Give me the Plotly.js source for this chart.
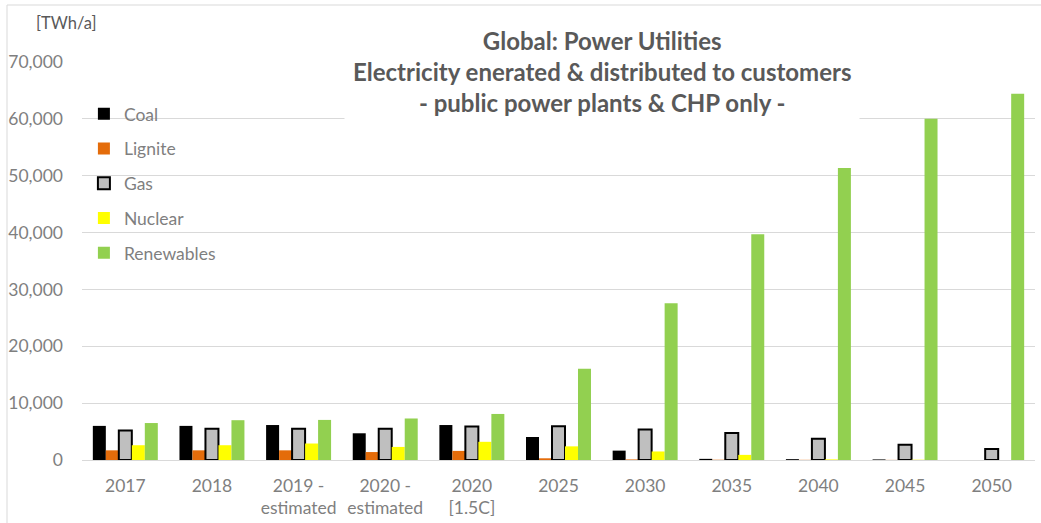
<!DOCTYPE html>
<html>
<head>
<meta charset="utf-8">
<script src="https://cdn.plot.ly/plotly-3.0.1.min.js"></script>
<style>
  html, body { margin: 0; padding: 0; background: #ffffff; }
  #chart { width: 1041px; height: 523px; }
</style>
</head>
<body>
<div id="chart"></div>
<script>
const categories = ['2017', '2018', '2019 -<br>estimated', '2020 -<br>estimated', '2020<br>[1.5C]', '2025', '2030', '2035', '2040', '2045', '2050'];
const coal       = [6000, 6000, 6150, 4700, 6150, 4050, 1650, 200, 150, 100, 0];
const lignite    = [1700, 1700, 1700, 1400, 1600, 300, 100, 50, 30, 20, 0];
const gas        = [5200, 5500, 5500, 5500, 5900, 5950, 5350, 4750, 3750, 2700, 1950];
const nuclear    = [2600, 2600, 2900, 2300, 3200, 2400, 1500, 900, 100, 50, 0];
const renewables = [6500, 7000, 7050, 7300, 8100, 16050, 27550, 39700, 51350, 60000, 64400];
const yTicks     = [0, 10000, 20000, 30000, 40000, 50000, 60000, 70000];

const FONT = 'Lato, "Open Sans", sans-serif';
const GREY = '#7f7f7f';

function bar(name, values, color, line) {
  return {
    type: 'bar', name: name, x: categories, y: values,
    legendgroup: name,
    marker: { color: color, line: line || { width: 0 } },
    hoverinfo: 'x+y+name'
  };
}

const data = [
  bar('Coal', coal, '#000000'),
  bar('Lignite', lignite, '#e46c0a'),
  bar('Gas', gas, '#bfbfbf', { color: '#000000', width: 2 }),
  bar('Nuclear', nuclear, '#ffff00'),
  bar('Renewables', renewables, '#92d050')
];

const layout = {
  width: 1041, height: 523,
  margin: { l: 82, r: 6, t: 62, b: 63, pad: 0 },
  paper_bgcolor: '#ffffff', plot_bgcolor: '#ffffff',
  font: { family: FONT, size: 17, color: GREY },
  barmode: 'group', bargap: 0.25, bargroupgap: 0,
  showlegend: true,
  legend: {
    x: 0.002, y: 0.915, xanchor: 'left', yanchor: 'top',
    bgcolor: 'rgba(0,0,0,0)', borderwidth: 0,
    font: { family: FONT, size: 17.5, color: GREY },
    tracegroupgap: 9, itemwidth: 30, traceorder: 'grouped'
  },
  xaxis: {
    type: 'category', showgrid: false, zeroline: false,
    showline: false, ticks: '', ticklabelstandoff: 13,
    tickfont: { family: FONT, size: 17.5, color: GREY }
  },
  yaxis: {
    range: [0, 70000], tickvals: yTicks, tickformat: ',d',
    showgrid: true, gridcolor: '#d9d9d9', gridwidth: 1,
    zeroline: true, zerolinecolor: '#d9d9d9', zerolinewidth: 1,
    showline: false, ticks: '', ticklabelstandoff: 18,
    tickfont: { family: FONT, size: 17.5, color: GREY }
  },
  annotations: [
    {
      xref: 'paper', yref: 'paper', x: 0.546, y: 0.975,
      xanchor: 'center', yanchor: 'middle',
      text: '<b>Global: Power Utilities<br>Electricity enerated &amp; distributed to customers<br>- public power plants &amp; CHP only -</b>',
      showarrow: false, align: 'center',
      font: { family: FONT, size: 24, color: '#595959' },
      bgcolor: '#ffffff', borderpad: 8
    },
    {
      xref: 'paper', yref: 'paper', x: (66 - 82) / 953, y: (460 - 23) / 398,
      xanchor: 'center', yanchor: 'middle',
      text: '[TWh/a]', showarrow: false,
      font: { family: FONT, size: 16.5, color: '#595959' }
    }
  ],
  shapes: [
    {
      type: 'rect', xref: 'paper', yref: 'paper', layer: 'above',
      x0: (7 - 82) / 953, x1: (1046 - 82) / 953,
      y0: (460 - 530) / 398, y1: (460 - 5) / 398,
      line: { color: '#d9d9d9', width: 1 }, fillcolor: 'rgba(0,0,0,0)'
    }
  ]
};

Plotly.newPlot('chart', data, layout, { displayModeBar: false, staticPlot: true });
</script>
</body>
</html>
